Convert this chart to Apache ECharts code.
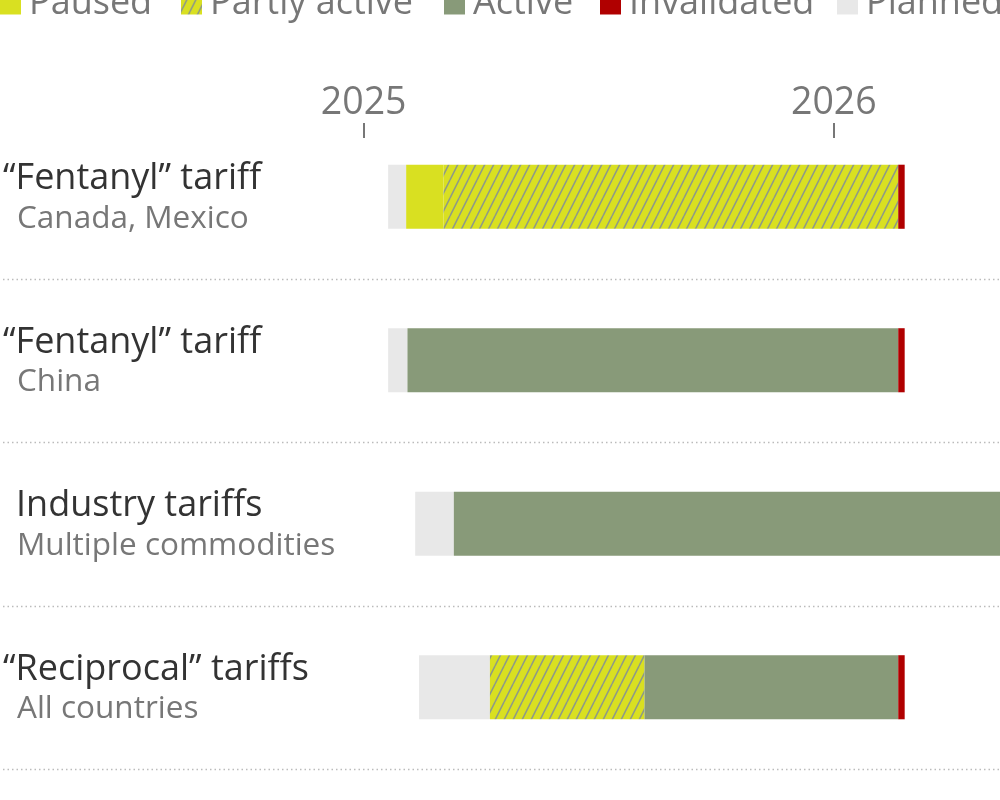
<!DOCTYPE html>
<html>
<head>
<meta charset="utf-8">
<script src="https://cdn.jsdelivr.net/npm/echarts@6/dist/echarts.min.js"></script>
<style>html,body{margin:0;padding:0;background:#fff}#c{width:1000px;height:800px}</style>
</head>
<body>
<div id="c"></div>
<script>
// ---- data ----
const titles = ['“Fentanyl” tariff', '“Fentanyl” tariff', 'Industry tariffs', '“Reciprocal” tariffs'];
const subtitles = ['Canada, Mexico', 'China', 'Multiple commodities', 'All countries'];
const yearTicks = ['2025-01-01', '2026-01-01'];
// [rowIndex, start, end]
const planned = [[0, '2025-01-20', '2025-02-03'], [1, '2025-01-20', '2025-02-04'], [2, '2025-02-10', '2025-03-12'], [3, '2025-02-13', '2025-04-09']];
const paused = [[0, '2025-02-03', '2025-03-04']];
const partlyActive = [[0, '2025-03-04', '2026-02-20'], [3, '2025-04-09', '2025-08-07']];
const active = [[1, '2025-02-04', '2026-02-20'], [2, '2025-03-12', '2026-06-30'], [3, '2025-08-07', '2026-02-20']];
const invalidated = [[0, '2026-02-20', '2026-02-25'], [1, '2026-02-20', '2026-02-25'], [3, '2026-02-20', '2026-02-25']];
const axisMin = '2024-03-27';
const axisMax = '2026-05-10';

// ---- styles ----
const FONT = 'Open Sans';
function hatchPattern() {
  const c = document.createElement('canvas');
  c.width = 9; c.height = 18;
  const ctx = c.getContext('2d');
  ctx.fillStyle = '#d9e021';
  ctx.fillRect(0, 0, 9, 18);
  ctx.strokeStyle = '#8e9a88';
  ctx.lineWidth = 1.6;
  [-9, 0, 9].forEach(o => { ctx.beginPath(); ctx.moveTo(o, 18); ctx.lineTo(o + 9, 0); ctx.stroke(); });
  return { image: c, repeat: 'repeat' };
}
const colors = {
  'Paused': '#d9e021',
  'Partly active': hatchPattern(),
  'Active': '#889a79',
  'Invalidated': '#b00000',
  'Planned': '#e8e8e8'
};
const ts = s => { const p = s.split('-').map(Number); return Date.UTC(p[0], p[1] - 1, p[2]); };

function renderSeg(params, api) {
  const row = api.value(0);
  const s = api.coord([api.value(1), row]);
  const e = api.coord([api.value(2), row]);
  const h = api.size([0, 1])[1] * 0.392;
  return {
    type: 'rect',
    shape: { x: s[0], y: s[1] - h / 2, width: e[0] - s[0], height: h },
    style: { fill: colors[params.seriesName] }
  };
}
function segSeries(name, data) {
  return {
    name, type: 'custom', renderItem: renderSeg,
    itemStyle: { color: colors[name] },
    encode: { x: [1, 2], y: 0 },
    data: data.map(d => [d[0], ts(d[1]), ts(d[2])])
  };
}
const legendNames = ['Paused', 'Partly active', 'Active', 'Invalidated', 'Planned'];
const legendLeft = [0, 181, 444, 600, 837];

const chart = echarts.init(document.getElementById('c'));
chart.setOption({
  animation: false,
  textStyle: { fontFamily: FONT },
  legend: legendNames.map((n, i) => ({
    data: [n], left: legendLeft[i], top: -14, padding: 0,
    itemWidth: 21, itemHeight: 21, icon: 'rect', selectedMode: false,
    textStyle: { fontSize: 36, color: '#777', fontFamily: FONT, padding: [0, 0, 0, 3] }
  })),
  grid: { left: 0, right: 0, top: 115, bottom: 31, containLabel: false },
  xAxis: {
    type: 'value', position: 'top', offset: -23,
    min: ts(axisMin), max: ts(axisMax),
    axisLine: { show: false },
    splitLine: { show: false },
    axisTick: { show: true, length: 15, inside: false, customValues: yearTicks.map(ts), lineStyle: { color: '#777', width: 2 } },
    axisLabel: {
      customValues: yearTicks.map(ts), margin: 16,
      fontSize: 37.5, color: '#777', fontFamily: FONT,
      formatter: v => String(new Date(v).getUTCFullYear())
    }
  },
  yAxis: {
    type: 'category', inverse: true, data: titles,
    axisLine: { show: false }, axisTick: { show: false }, splitLine: { show: false },
    axisLabel: {
      inside: true, margin: 0, align: 'left',
      formatter: (v, i) => {
        const t = titles[i];
        const key = t.charAt(0) === '“' ? 'tq' : 't';
        return '{' + key + '|' + t + '}\n{s|' + subtitles[i] + '}';
      },
      rich: {
        tq: { fontSize: 36, color: '#333', lineHeight: 44, fontFamily: FONT, padding: [8, 0, 0, 0] },
        t: { fontSize: 36, color: '#333', lineHeight: 44, fontFamily: FONT, padding: [8, 0, 0, 13] },
        s: { fontSize: 31.5, color: '#777', lineHeight: 44, fontFamily: FONT, padding: [0, 0, 0, 14] }
      }
    }
  },
  series: [
    segSeries('Planned', planned),
    segSeries('Paused', paused),
    segSeries('Partly active', partlyActive),
    segSeries('Active', active),
    segSeries('Invalidated', invalidated),
    {
      name: 'sep', type: 'custom', silent: true,
      encode: { x: 1, y: 0 },
      data: titles.map((t, i) => [i, ts(axisMin)]),
      renderItem: (params, api) => {
        const c = api.coord([api.value(1), api.value(0)]);
        const band = api.size([0, 1])[1];
        const y = Math.round(c[1] + band / 2) + 0.5;
        return {
          type: 'line',
          shape: { x1: params.coordSys.x, y1: y, x2: params.coordSys.x + params.coordSys.width, y2: y },
          style: { stroke: '#bbb', lineWidth: 1.5, lineDash: [1.5, 3] }
        };
      }
    }
  ]
});
</script>
</body>
</html>
